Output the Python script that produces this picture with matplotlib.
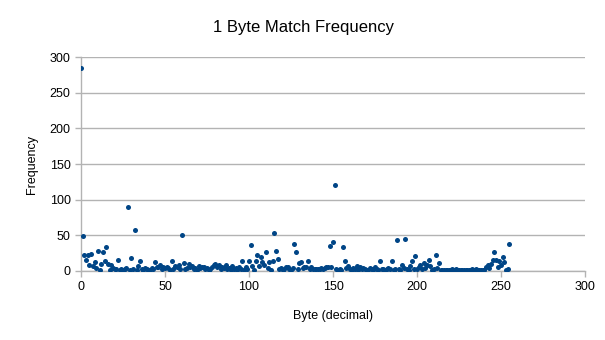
import matplotlib
matplotlib.use('Agg')
import matplotlib.pyplot as plt

plt.rcParams['font.family'] = ['Liberation Sans', 'DejaVu Sans']

# Frequency of each byte value 0..255
freq_0_69 = [285, 49, 23, 15, 22, 8, 24, 7, 13, 4,
             28, 1, 10, 27, 14, 33, 10, 2, 8, 4,
             3, 3, 15, 2, 3, 2, 3, 4, 90, 2,
             18, 3, 57, 2, 7, 14, 3, 2, 4, 3,
             2, 2, 4, 3, 13, 5, 5, 8, 3, 6,
             4, 6, 4, 2, 14, 3, 7, 5, 8, 3,
             50, 11, 3, 4, 10, 6, 7, 3, 4, 2]
freq_70_139 = [7, 4, 5, 5, 3, 4, 2, 3, 6, 9,
               10, 6, 8, 3, 5, 4, 9, 3, 4, 2,
               7, 3, 4, 2, 5, 3, 14, 2, 5, 3,
               14, 37, 7, 2, 14, 23, 7, 19, 12, 8,
               27, 4, 13, 2, 14, 53, 28, 17, 3, 4,
               1, 3, 6, 5, 3, 2, 4, 38, 27, 3,
               11, 13, 4, 5, 6, 14, 3, 5, 3, 3]
freq_140_199 = [3, 3, 3, 4, 3, 4, 5, 6, 35, 6,
                41, 120, 3, 2, 3, 2, 34, 14, 4, 7,
                3, 1, 4, 3, 7, 2, 5, 3, 4, 3,
                2, 1, 4, 3, 2, 6, 3, 2, 14, 3,
                3, 2, 3, 4, 3, 14, 2, 3, 43, 3,
                2, 8, 4, 45, 3, 2, 7, 14, 3, 21]
freq_200_255 = [3, 5, 8, 3, 11, 4, 9, 16, 7, 2,
                3, 23, 4, 11, 2, 1, 2, 1, 2, 2,
                2, 3, 1, 3, 2, 1, 2, 2, 1, 2,
                1, 2, 1, 3, 2, 3, 1, 2, 1, 2,
                2, 5, 8, 4, 10, 16, 27, 15, 5, 14,
                8, 20, 12, 1, 3, 38]

frequency = freq_0_69 + freq_70_139 + freq_140_199 + freq_200_255
byte_values = list(range(len(frequency)))

grid_col = '#b3b3b3'

fig = plt.figure(figsize=(6.05, 3.4), dpi=100)
ax = fig.add_axes([0.134, 0.203, 0.833, 0.629])

ax.scatter(byte_values, frequency, marker='o', s=13, color='#004586',
           linewidths=0, zorder=3)

ax.set_xlim(0, 300)
ax.set_ylim(0, 300)
ax.set_xticks(range(0, 301, 50))
ax.set_yticks(range(0, 301, 50))
ax.yaxis.grid(True, color=grid_col, linewidth=1)
ax.set_axisbelow(True)

for side in ['top', 'right']:
    ax.spines[side].set_visible(False)
for side in ['left', 'bottom']:
    ax.spines[side].set_color(grid_col)
    ax.spines[side].set_linewidth(1)

ax.tick_params(axis='both', colors=grid_col, labelcolor='black',
               labelsize=9, length=4, width=1)

# title is centred on the whole figure
fig.text(0.502, 0.92, '1 Byte Match Frequency', fontsize=12,
         ha='center', va='center')
ax.set_xlabel('Byte (decimal)', fontsize=9, labelpad=12)
ax.set_ylabel('Frequency', fontsize=9)
ax.yaxis.set_label_coords(-0.085, 0.5)

fig.savefig('out.png', dpi=100)
